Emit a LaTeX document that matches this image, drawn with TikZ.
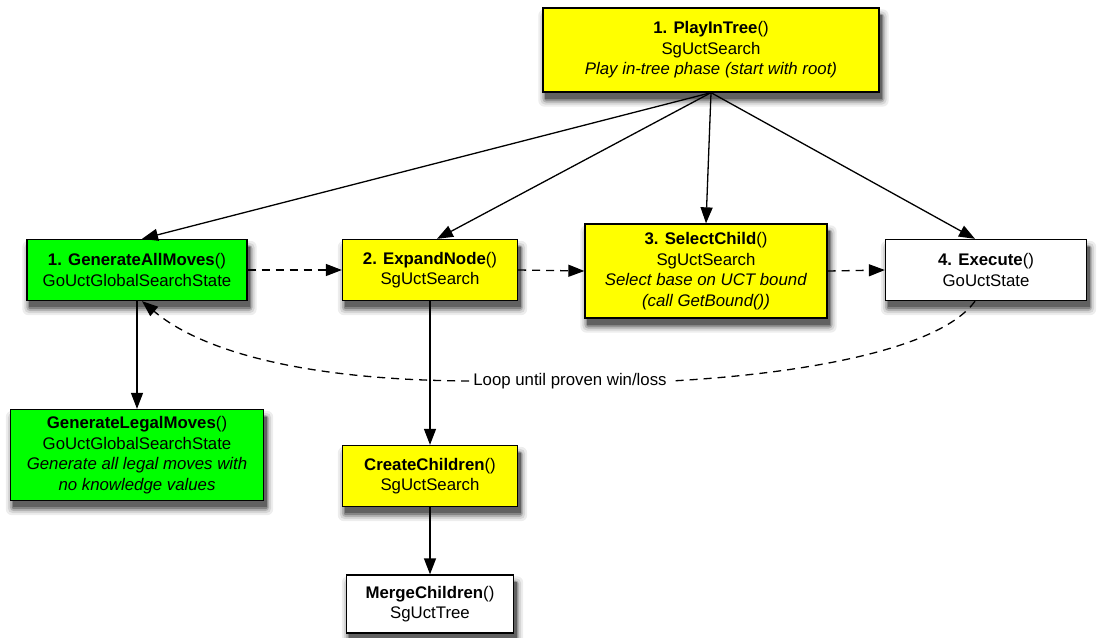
\documentclass[tikz,border=0pt]{standalone}
\usepackage{fontspec}
\setmainfont{Liberation Sans}
\usetikzlibrary{arrows.meta,backgrounds}
\definecolor{boxyellow}{HTML}{FFFF00}
\definecolor{boxgreen}{HTML}{00FF00}
\begin{document}
\begin{tikzpicture}[x=1pt,y=-1pt,
  fn/.style={draw=black, line width=1.3pt, align=center, inner sep=2pt,
    font=\fontsize{16.8}{20.5}\selectfont},
  yel/.style={fn, fill=boxyellow},
  grn/.style={fn, fill=boxgreen},
  wht/.style={fn, fill=white},
  tip/.style={-{Triangle[length=16pt,width=12pt]}},
  call/.style={tip, line width=1.3pt},
  seq/.style={tip, line width=1.3pt, dash pattern=on 8pt off 6pt},
]
\useasboundingbox (0,0) rectangle (1099,637);

\node[yel, minimum width=336pt, minimum height=84pt] (pit) at (711,50)
  {\textbf{1. PlayInTree}()\\SgUctSearch\\\textit{Play in-tree phase (start with root)}};

\node[grn, minimum width=220pt, minimum height=61pt] (gam) at (137,270)
  {\textbf{1. GenerateAllMoves}()\\GoUctGlobalSearchState};
\node[yel, minimum width=175pt, minimum height=61pt] (exp) at (430,270)
  {\textbf{2. ExpandNode}()\\SgUctSearch};
\node[yel, minimum width=242pt, minimum height=94pt] (sel) at (706,271)
  {\textbf{3. SelectChild}()\\SgUctSearch\\\textit{Select base on UCT bound}\\\textit{(call GetBound())}};
\node[wht, minimum width=201pt, minimum height=61pt] (exe) at (986,270)
  {\textbf{4. Execute}()\\GoUctState};

\node[grn, minimum width=253pt, minimum height=91pt] (glm) at (137,455)
  {\textbf{GenerateLegalMoves}()\\GoUctGlobalSearchState\\\textit{Generate all legal moves with}\\\textit{no knowledge values}};
\node[yel, minimum width=175pt, minimum height=61pt] (cc) at (430,476)
  {\textbf{CreateChildren}()\\SgUctSearch};
\node[wht, minimum width=167pt, minimum height=58pt] (mc) at (430,604)
  {\textbf{MergeChildren}()\\SgUctTree};

\node[font=\fontsize{16.8}{20}\selectfont, inner sep=4pt] (loop) at (570,381) {Loop until proven win/loss};

% soft drop shadows behind every box
\begin{scope}[on background layer]
\foreach \n in {pit,gam,exp,sel,exe,glm,cc,mc}{
  \fill[black!7, rounded corners=6pt]  ([xshift=-4pt,yshift=-2pt]\n.north west) rectangle ([xshift=9pt,yshift=-14pt]\n.south east);
  \fill[black!16, rounded corners=5pt] ([xshift=-2pt,yshift=-4pt]\n.north west) rectangle ([xshift=7pt,yshift=-12pt]\n.south east);
  \fill[black!30, rounded corners=4pt] ([xshift=0pt,yshift=-6pt]\n.north west) rectangle ([xshift=5pt,yshift=-10pt]\n.south east);
  \fill[black!48, rounded corners=2pt] ([xshift=2pt,yshift=-7pt]\n.north west) rectangle ([xshift=3.5pt,yshift=-8pt]\n.south east);
  \fill[black!62] ([xshift=3pt,yshift=-8pt]\n.north west) rectangle ([xshift=2.5pt,yshift=-6pt]\n.south east);
}
\end{scope}

% calls from the in-tree phase
\draw[call] (pit.south) -- (gam.north -| 142,0);
\draw[call] (pit.south) -- (exp.north -| 437,0);
\draw[call] (pit.south) -- (sel.north -| 706,0);
\draw[call] (pit.south) -- (exe.north -| 975,0);

% sequence within the in-tree step
\draw[seq] (gam.east) -- (exp.west);
\draw[seq] (exp.east) -- (sel.west);
\draw[seq] (sel.east) -- (exe.west);

% sub-calls
\draw[call] (gam.south) -- (glm.north);
\draw[call] (exp.south) -- (cc.north);
\draw[call] (cc.south) -- (mc.north);

% loop back
\draw[line width=1.3pt, dash pattern=on 8pt off 6pt] (exe.south -| 975,0) .. controls (940,350) and (800,374) .. (loop.east);
\draw[seq] (loop.west) .. controls (300,380) and (200,350) .. (gam.south -| 142,0);
\end{tikzpicture}
\end{document}
